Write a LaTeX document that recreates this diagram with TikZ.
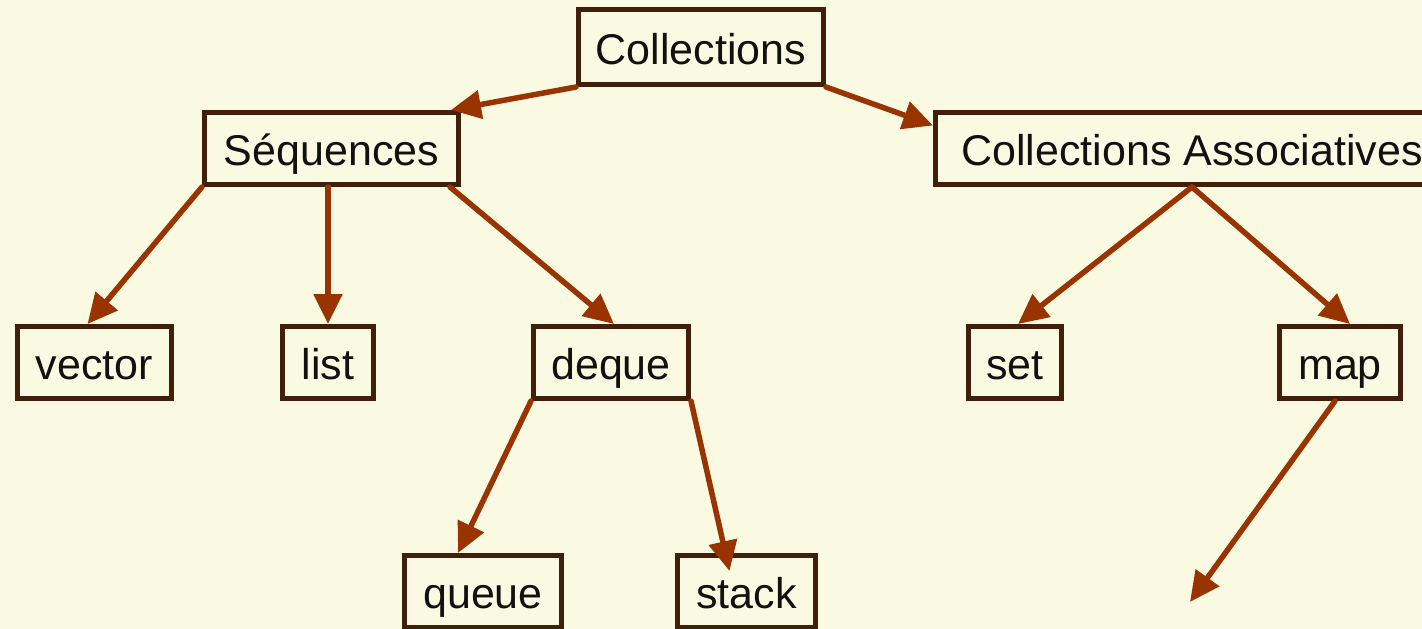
\documentclass[tikz,border=0pt]{standalone}
\usepackage{fontspec}
\setmainfont{Liberation Sans}
\usetikzlibrary{arrows.meta, positioning}

\definecolor{cream}{HTML}{FAFAE3}
\definecolor{boxline}{HTML}{40200A}
\definecolor{rust}{HTML}{993300}
\definecolor{ink}{HTML}{111111}

\begin{document}
\begin{tikzpicture}[
    x=1pt, y=-1pt,
    every node/.style={align=center, font=\fontsize{43}{50}\selectfont, text=ink},
    box/.style={draw=boxline, line width=5pt, fill=cream, inner sep=0pt,
                minimum height=72pt, text height=34pt, text depth=0pt},
    arrow/.style={-{Triangle[length=30pt, width=28pt]}, line width=5.5pt, line cap=round, rust}
]
    % Background
    \clip (0,0) rectangle (1422,629);
    \fill[cream] (0,0) rectangle (1422,629);

    % Nodes
    \node[box, minimum width=245pt, minimum height=75pt] (coll) at (701,47) {Collections};

    \node[box, minimum width=254pt] (seq) at (331.5,148.5) {Séquences};
    \node[box, minimum width=513pt] (assoc) at (1192,148.5) {Collections Associatives};

    \node[box, minimum width=154pt] (vector) at (94.5,362.5) {vector};
    \node[box, minimum width=91pt] (list) at (328,362.5) {list};
    \node[box, minimum width=155pt] (deque) at (611,362.5) {deque};
    \node[box, minimum width=93pt] (set) at (1015,362.5) {set};
    \node[box, minimum width=121pt] (map) at (1340,362.5) {map};

    \node[box, minimum width=157pt] (queue) at (483,591.5) {queue};
    \node[box, minimum width=138pt] (stack) at (746.5,591.5) {stack};

    \coordinate (mapend) at (1190,602);

    % Arrows
    \draw[arrow] (coll.south west) -- ([xshift=-10pt]seq.north east);
    \draw[arrow] (coll.south east) -- ([yshift=-15.5pt]assoc.north west);

    \draw[arrow] (seq.south west) -- ([xshift=-7pt]vector.north);
    \draw[arrow] (list.north |- seq.south) -- (list.north);
    \draw[arrow] ([xshift=-11pt]seq.south east) -- ([xshift=3pt]deque.north);

    \draw[arrow] (assoc.south) -- ([xshift=3pt]set.north);
    \draw[arrow] (assoc.south) -- ([xshift=10pt]map.north);

    \draw[arrow] (deque.south west) -- ([xshift=-25pt]queue.north);
    \draw[arrow] (deque.south east) -- ([shift={(-17pt,-18pt)}]stack.north);

    \draw[arrow] ([xshift=-5pt]map.south) -- (mapend);
\end{tikzpicture}
\end{document}
